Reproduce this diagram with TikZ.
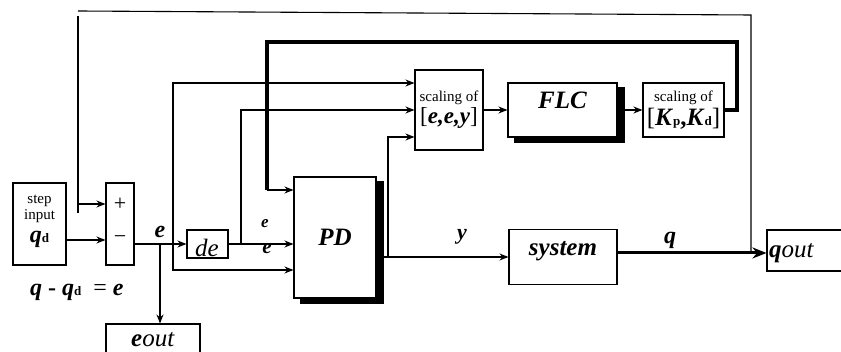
\documentclass[tikz,border=0pt]{standalone}
\usepackage{fontspec}
\setmainfont{Liberation Serif}
\usepackage{tikz}
\usetikzlibrary{positioning,arrows.meta,backgrounds,calc}
\newcommand\fsz[1]{\fontsize{#1}{#1}\selectfont}
\newcommand\sig[1]{\textbf{\textit{#1}}}
\newcommand\lowidx[1]{{\fsz{13}\textbf{#1}}}

\begin{document}
\begin{tikzpicture}[x=1pt, y=-1pt, >={Stealth[length=9pt,width=7pt]},
  block/.style={draw, line width=1.1pt, fill=white, inner sep=0pt},
  wire/.style={line width=1.1pt},
  bus/.style={line width=4pt, line join=miter},
  tag/.style={inner sep=0pt, font=\fsz{#1}},
  tag/.default=24]
  \useasboundingbox (0,0) rectangle (841,352);
  % ---- blocks
  \node[block, minimum width=53pt, minimum height=82pt] (stepin) at (39.5,224) {};
  \node[tag=15, align=center] (steptxt) at (39.5,221)
    {step\\[1pt]input\\[8pt]{\fsz{24}\sig{q}}\lowidx{d}};
  \node[block, minimum width=28pt, minimum height=82pt] (sum) at (120,224) {};
  \node[tag=22] (plus) at (120,204) {+};
  \node[tag=22] (minus) at (120,240) {−};
  \node[block, minimum width=41pt, minimum height=28pt] (de) at (207.5,244) {};
  \begin{scope}
    \clip (de.south west) rectangle (de.north east);
    \node[tag=25, anchor=base] (detxt) at (207,257) {\textit{de}};
  \end{scope}
  \node[block, minimum width=82pt, minimum height=121pt, font=\fsz{25}] (pd) at (335,237.5) {\sig{PD}};
  \node[block, minimum width=68pt, minimum height=80pt, align=center]
    (scaleE) at (449,110) {{\fsz{15}scaling of}\\[2pt]{\fsz{23}[\sig{e,e,y}]}};
  \node[block, minimum width=109pt, minimum height=54pt] (flc) at (562.5,110) {};
  \node[tag=25] (flctxt) at (562.5,100) {\sig{FLC}};
  \node[block, minimum width=81pt, minimum height=54pt, align=center]
    (kbox) at (683.5,110) {{\fsz{15}scaling of}\\[2pt]{\fsz{25}[\sig{K}\lowidx{p}\textbf{,}\sig{K}\lowidx{d}]}};
  \node[block, minimum width=108pt, minimum height=55pt] (sys) at (563,257) {};
  \node[tag=25] (systxt) at (563,251) {\sig{system}};
  \node[block, minimum width=83pt, minimum height=41pt] (qout) at (808.5,250.5) {};
  \node[tag=25, anchor=west] (qouttxt) at (769,253) {\sig{q}\textit{out}};
  \node[block, minimum width=94pt, minimum height=38pt] (eout) at (153,343) {};
  \node[tag=25] (eouttxt) at (153,340) {\sig{e}\textit{out}};
  % ---- drop shadows
  \begin{scope}[on background layer]
    \foreach \b in {pd, flc} {
      \fill ($(\b.north west)+(7,5)$) rectangle ($(\b.south east)+(7,5)$);
    }
  \end{scope}
  % ---- signal labels
  \node[tag] (elbl) at (160,232) {\sig{e}};
  \node[tag=17] (edlbl) at (265,224) {\sig{e}};
  \node[tag=21] (eelbl) at (267,249) {\sig{e}};
  \node[tag=22] (ylbl) at (462,237) {\sig{y}};
  \node[tag] (qlbl) at (670,240) {\sig{q}};
  \node[tag, anchor=west] (eqn) at (30,292) {\sig{q} \textbf{-} \sig{q}\lowidx{d}\ \ = \sig{e}};
  % ---- branch points
  \coordinate (ej) at (160,244);
  \coordinate (ek) at (173,244);
  \coordinate (dj) at (241,244);
  \coordinate (yj) at (388,257);
  \coordinate (qtap) at (751,253);
  % ---- outer feedback of q
  \draw[wire] (78,11) -- (751,15) -- (qtap);
  \draw[wire] (78,16) -- (78,213);
  \draw[wire, ->] (78,204) -- (sum.west |- plus);
  \draw[wire, ->] (stepin.east |- minus) -- (sum.west |- minus);
  % ---- error path
  \draw[wire, ->] (sum.east |- de) -- (de.west);
  \draw[wire, ->] (ej) -- (ej |- eout.north);
  \draw[wire, ->] (de.east) -- (de.east -| pd.west);
  \draw[wire, ->] (ek) |- ([yshift=-32.5pt]pd.west);
  \foreach \src/\dy in {ek/27, dj/0, yj/-27} {
    \draw[wire, ->] (\src) |- ([yshift=\dy pt]scaleE.west);
  }
  % ---- fuzzy tuning path
  \draw[wire, ->] (scaleE.east) -- (flc.west);
  \draw[wire, ->] (flc.east) -- (kbox.west);
  \draw[bus] (kbox.east) -| (737,42) -- (267,42) -- (267,190);
  \draw[wire, ->] (267,190) -- ([yshift=47.5pt]pd.west);
  % ---- plant
  \draw[wire, ->] (pd.east |- sys) -- (sys.west);
  \draw[line width=3pt, -{Stealth[length=14pt,width=11pt]}] (sys.east |- qtap) -- (qout.west |- qtap);
\end{tikzpicture}
\end{document}
